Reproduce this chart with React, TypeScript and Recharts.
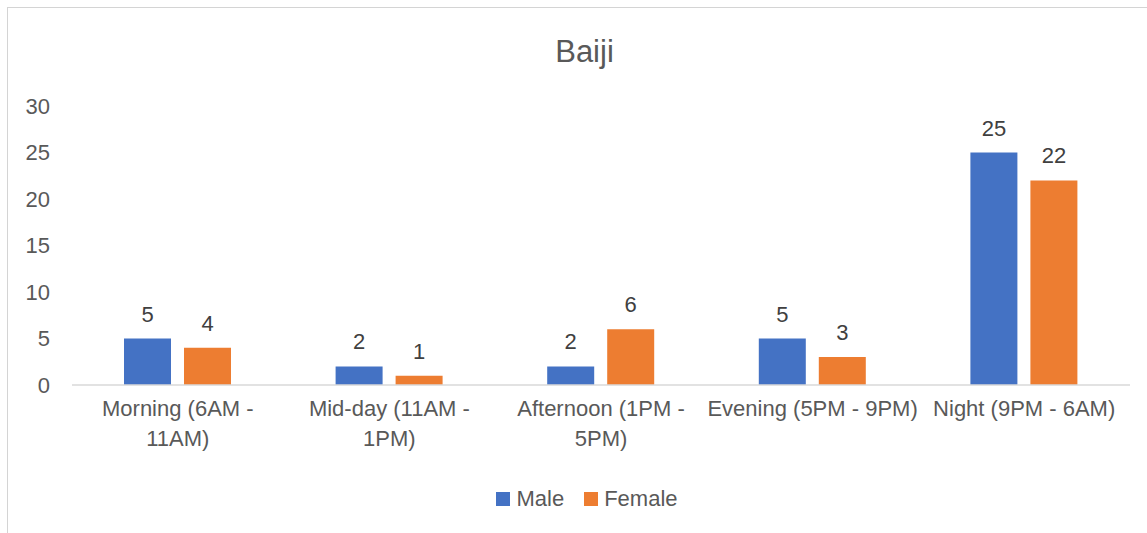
import { BarChart, Bar, XAxis, YAxis, Legend, LabelList } from 'recharts';

const categories = [
  'Morning (6AM - 11AM)',
  'Mid-day (11AM - 1PM)',
  'Afternoon (1PM - 5PM)',
  'Evening (5PM - 9PM)',
  'Night (9PM - 6AM)',
];
const male = [5, 2, 2, 5, 25];
const female = [4, 1, 6, 3, 22];
const yTicks = [0, 5, 10, 15, 20, 25, 30];

const data = categories.map((name, i) => ({ name, Male: male[i], Female: female[i] }));

const FONT = '"Liberation Sans", Arial, sans-serif';
const BLUE = '#4472C4';
const ORANGE = '#ED7D31';

let measureCtx: CanvasRenderingContext2D | null = null;
const measure = (s: string) => {
  if (!measureCtx) {
    measureCtx = document.createElement('canvas').getContext('2d');
  }
  if (!measureCtx) return s.length * 11;
  measureCtx.font = `22px ${FONT}`;
  return measureCtx.measureText(s).width;
};

// greedy word wrap, like Excel does for category labels
const wrap = (label: string, maxWidth: number) => {
  const words = label.split(' ');
  const lines: string[] = [];
  let cur = '';
  words.forEach((w) => {
    const next = cur ? `${cur} ${w}` : w;
    if (cur && measure(next) > maxWidth) {
      lines.push(cur);
      cur = w;
    } else {
      cur = next;
    }
  });
  if (cur) lines.push(cur);
  return lines;
};

const CategoryTick = (props: any) => {
  const { x, y, payload } = props;
  const lines = wrap(String(payload.value), 215);
  return (
    <text x={x} y={y} textAnchor="middle" fill="#595959" fontSize={22} fontFamily={FONT}>
      {lines.map((line, i) => (
        <tspan key={i} x={x} dy={i === 0 ? 31 : 30}>
          {line}
        </tspan>
      ))}
    </text>
  );
};

const LegendContent = () => (
  <div
    style={{
      display: 'flex',
      justifyContent: 'center',
      alignItems: 'center',
      height: 30,
      fontSize: 22,
      fontFamily: FONT,
      color: '#595959',
    }}
  >
    {[
      { label: 'Male', color: BLUE },
      { label: 'Female', color: ORANGE },
    ].map((item, i) => (
      <div key={item.label} style={{ display: 'flex', alignItems: 'center', marginLeft: i ? 20 : 0 }}>
        <span style={{ width: 14, height: 14, background: item.color, marginRight: 6 }} />
        <span>{item.label}</span>
      </div>
    ))}
  </div>
);

const App = () => {
  return (
    <div
      style={{
        position: 'absolute',
        top: 7,
        left: 7,
        width: 1150,
        height: 540,
        border: '1px solid #d4d4d4',
        background: '#fff',
        fontFamily: FONT,
      }}
    >
      <div
        style={{
          position: 'absolute',
          top: 28,
          left: 0,
          width: 1153,
          textAlign: 'center',
          fontSize: 31,
          lineHeight: '31px',
          color: '#595959',
        }}
      >
        Baiji
      </div>

      <BarChart
        width={1140}
        height={526}
        data={data}
        margin={{ top: 98, right: 18, bottom: 89, left: 0 }}
        barCategoryGap={52}
        barGap={13}
      >
        <XAxis
          dataKey="name"
          axisLine={{ stroke: '#d9d9d9', strokeWidth: 1.5 }}
          tickLine={false}
          tickSize={0}
          tickMargin={0}
          interval={0}
          height={60}
          tick={<CategoryTick />}
        />
        <YAxis
          domain={[0, 30]}
          ticks={yTicks}
          axisLine={false}
          tickLine={false}
          tickSize={0}
          tickMargin={22}
          width={64}
          tick={{ fill: '#595959', fontSize: 22, fontFamily: FONT }}
        />
        <Legend
          verticalAlign="middle"
          align="center"
          content={<LegendContent />}
          wrapperStyle={{ top: 476, left: 9, width: 1140 }}
        />
        <Bar dataKey="Male" fill={BLUE} isAnimationActive={false}>
          <LabelList dataKey="Male" position="top" offset={17} fill="#404040" fontSize={22} fontFamily={FONT} />
        </Bar>
        <Bar dataKey="Female" fill={ORANGE} isAnimationActive={false}>
          <LabelList dataKey="Female" position="top" offset={17} fill="#404040" fontSize={22} fontFamily={FONT} />
        </Bar>
      </BarChart>
    </div>
  );
};

export default App;
